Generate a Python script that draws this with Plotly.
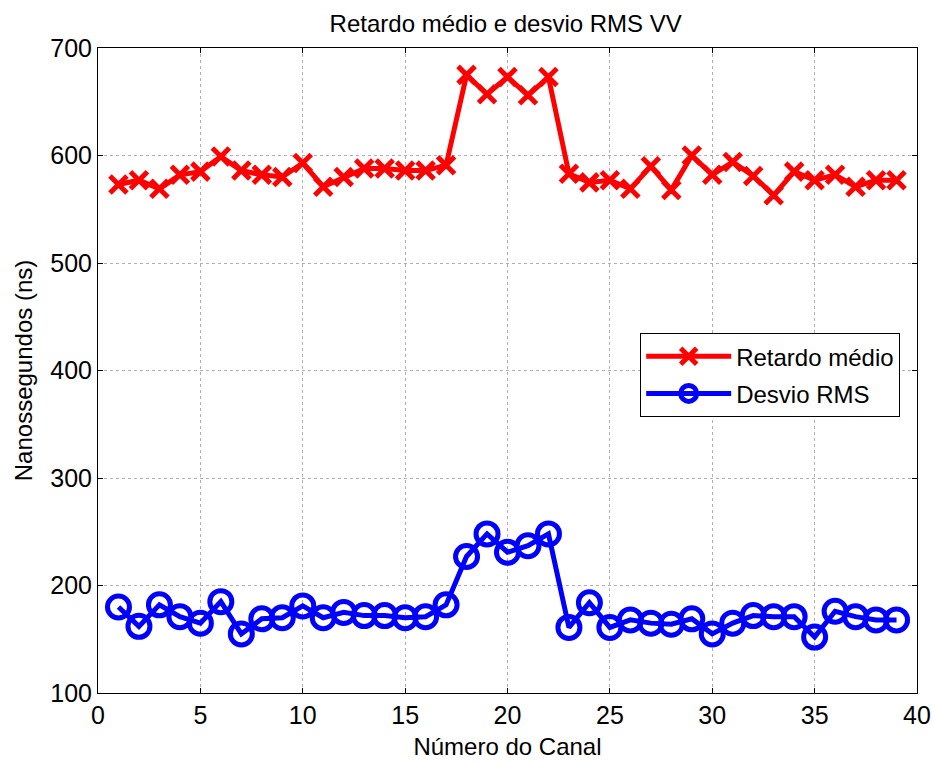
import plotly.graph_objects as go

canal = list(range(1, 40))
retardo_medio = [573, 577, 569, 582, 585, 599, 586, 582, 580, 593,
                 571, 580, 588, 588, 586, 586, 591, 675, 657, 673,
                 656, 673, 583, 575, 577, 569, 590, 568, 600, 582,
                 594, 581, 563, 585, 577, 582, 571, 577, 577]
desvio_rms = [180, 162, 182, 171, 165, 185, 155, 169, 170, 181,
              170, 175, 172, 172, 170, 171, 182, 227, 248, 231,
              237, 248, 161, 184, 161, 168, 165, 164, 169, 155,
              165, 172, 171, 171, 152, 176, 171, 168, 168]

font = "Liberation Sans, Arial, sans-serif"

fig = go.Figure()
fig.add_trace(go.Scatter(
    x=canal, y=retardo_medio, mode="lines+markers", name="Retardo médio",
    legendgroup="a",
    line=dict(color="#ff0000", width=5),
    marker=dict(symbol="x-thin", size=17, color="#ff0000",
                line=dict(color="#ff0000", width=5)),
))
fig.add_trace(go.Scatter(
    x=canal, y=desvio_rms, mode="lines+markers", name="Desvio RMS",
    legendgroup="b",
    line=dict(color="#0000ff", width=5),
    marker=dict(symbol="circle-open", size=22, color="#0000ff",
                line=dict(color="#0000ff", width=5)),
))

axis_common = dict(
    showline=True, linecolor="black", linewidth=1, mirror="ticks",
    ticks="inside", ticklen=5, tickcolor="black",
    showgrid=True, gridcolor="#b0b0b0", griddash="dot", gridwidth=1,
    zeroline=False, automargin=False,
    tickfont=dict(family=font, size=25, color="black"),
)

fig.update_layout(
    width=933, height=763,
    margin=dict(l=98, r=16, t=48, b=70),
    paper_bgcolor="white", plot_bgcolor="white",
    title=dict(text="Retardo médio e desvio RMS VV", x=0.542, xanchor="center",
               y=0.969, yanchor="middle",
               font=dict(family=font, size=24, color="black")),
    xaxis=dict(range=[0, 40], dtick=5,
               title=dict(text="Número do Canal", standoff=10,
                          font=dict(family=font, size=24, color="black")),
               **axis_common),
    yaxis=dict(range=[100, 700], dtick=100,
               title=dict(text="Nanossegundos (ns)", standoff=10,
                          font=dict(family=font, size=24, color="black")),
               **axis_common),
    legend=dict(x=0.662, y=0.558, xanchor="left", yanchor="top",
                bgcolor="white", bordercolor="black", borderwidth=1,
                font=dict(family=font, size=24, color="black"),
                itemwidth=85, tracegroupgap=3),
    showlegend=True,
)

fig.write_html("out.html")
